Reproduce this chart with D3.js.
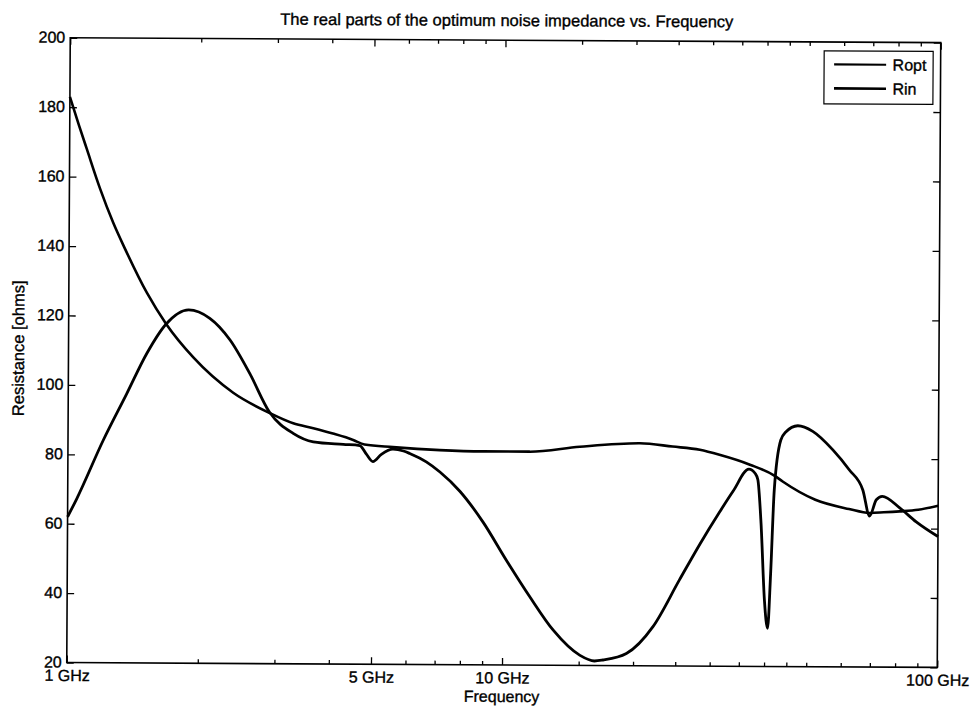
<!DOCTYPE html>
<html><head><meta charset="utf-8">
<script src="https://cdn.jsdelivr.net/npm/d3@7"></script>
<style>body{margin:0;background:#fff}svg{display:block}text{font-family:"Liberation Sans",Arial,sans-serif;fill:#000;stroke:#000;stroke-width:0.35px}</style>
</head><body>
<svg id="chart" width="972" height="708"></svg>
<script>
// ---- data (frequency in GHz, resistance in ohms) ----
const roptFreq = [1.0,1.05,1.095,1.176,1.263,1.342,1.512,1.675,1.936,2.393,2.906,3.29,3.66,4.06,4.52,4.8,5.58,7.15,9.0,11.5,15.0,20.6,24.5,28.3,31.4,36.9,42.0,43.9,52.2,62.4,69.6,75.0,81.6,90.0,100.0];
const roptVal  = [183,174.8,168.0,156.6,146.7,139.5,126.6,117.7,108.1,98.0,92.2,89.3,87.9,86.4,84.6,83.3,82.6,81.8,81.5,81.5,83.0,84.1,83.2,82.3,80.9,78.1,75.0,73.3,68.1,65.5,64.4,64.6,64.9,65.4,66.6];

const rinFreq = [1.0,1.049,1.205,1.362,1.512,1.675,1.886,2.11,2.35,2.61,2.9,3.29,3.66,4.29,4.68,4.85,5.02,5.25,5.58,5.9,6.1,6.66,7.16,7.96,9.0,10.2,11.56,13.1,15.1,16.3,17.06,19.3,22.2,25.5,28.4,31.5,33.8,36.7,38.0,38.5,39.2,40.0,40.7,41.3,42.0,43.4,44.5,47.5,51.4,57.2,62.4,67.1,69.6,72.1,74.4,81.6,89.1,100.0];
const rinVal  = [62,67.2,84.1,97.5,109.1,117.7,121.8,119.4,113.2,103.6,92.5,86.4,84.0,83.3,83.0,80.5,78.4,80.5,82.0,81.5,80.8,78.4,75.5,70.0,61.2,50.2,39.7,30.1,22.9,21.3,21.6,23.5,31.3,44.8,55.2,64.5,70.5,76.8,75.5,73.8,61.3,39.1,31.0,46.7,70.8,85.2,87.5,89.4,87.8,82.5,76.8,71.0,63.5,68.2,69.2,65.9,61.9,57.7];

const xTickValues = [1,5,10,100];
const xTickLabels = ["1 GHz","5 GHz","10 GHz","100 GHz"];
const xMinorTicks = [2,3,4,6,7,8,9,15,20,25,30,35,40,45,50,60,70,80,90];
const yTickValues = [20,40,60,80,100,120,140,160,180,200];
const seriesNames = ["Ropt","Rin"];

const titleText = "The real parts of the optimum noise impedance vs. Frequency";
const xLabelText = "Frequency";
const yLabelText = "Resistance [ohms]";

// ---- layout ----
const L = 68.5, R = 939, T = 40.2, B = 665;
const svg = d3.select("#chart");
const g = svg.append("g").attr("transform","rotate(0.32,503.5,352.5)");

const x = d3.scaleLog().domain([1,100]).range([L,R]);
const y = d3.scaleLinear().domain([20,200]).range([B,T]);

// title & labels
g.append("text").attr("x",505).attr("y",26).attr("text-anchor","middle")
  .style("font-size","16.5px").text(titleText);
g.append("text").attr("x",503.5).attr("y",702).attr("text-anchor","middle")
  .style("font-size","16px").text(xLabelText);
g.append("text").attr("transform","translate(24,351) rotate(-90)").attr("text-anchor","middle")
  .style("font-size","16.5px").text(yLabelText);

// curves
const line = d3.line().x(d=>x(d[0])).y(d=>y(d[1])).curve(d3.curveMonotoneX);
const roptData = roptFreq.map((f,i)=>[f,roptVal[i]]);
const rinData = rinFreq.map((f,i)=>[f,rinVal[i]]);
g.append("path").datum(roptData).attr("d",line).attr("fill","none")
  .attr("stroke","#000").attr("stroke-width",2.6).attr("stroke-linejoin","round");
g.append("path").datum(rinData).attr("d",line).attr("fill","none")
  .attr("stroke","#000").attr("stroke-width",2.8).attr("stroke-linejoin","round");

// axes
function styleAxis(sel){
  sel.select(".domain").remove();
  sel.selectAll(".tick line").attr("stroke","#000").attr("stroke-width",1.3);
  sel.selectAll(".tick text").style("font-size","16px").attr("fill","#000");
}
const xi = d3.scaleOrdinal().domain(xTickValues).range(xTickLabels);
g.append("g").attr("transform",`translate(0,${B})`)
  .call(d3.axisBottom(x).tickValues(xTickValues).tickFormat(d=>xi(d)).tickSizeInner(-7).tickSizeOuter(0).tickPadding(7))
  .call(styleAxis);
g.append("g").attr("transform",`translate(0,${B})`)
  .call(d3.axisBottom(x).tickValues(xMinorTicks).tickFormat("").tickSizeInner(-4).tickSizeOuter(0))
  .call(styleAxis);
g.append("g").attr("transform",`translate(0,${T})`)
  .call(d3.axisTop(x).tickValues(xTickValues).tickFormat("").tickSizeInner(-7).tickSizeOuter(0))
  .call(styleAxis);
g.append("g").attr("transform",`translate(0,${T})`)
  .call(d3.axisTop(x).tickValues(xMinorTicks).tickFormat("").tickSizeInner(-4).tickSizeOuter(0))
  .call(styleAxis);
const yAx = g.append("g").attr("transform",`translate(${L},0)`)
  .call(d3.axisLeft(y).tickValues(yTickValues).tickFormat(d3.format("d")).tickSizeInner(-7).tickSizeOuter(0).tickPadding(5))
  .call(styleAxis);
yAx.selectAll(".tick text").attr("dy","0.28em");
g.append("g").attr("transform",`translate(${R},0)`)
  .call(d3.axisRight(y).tickValues(yTickValues).tickFormat("").tickSizeInner(-7).tickSizeOuter(0))
  .call(styleAxis);

// frame
g.append("rect").attr("x",L).attr("y",T).attr("width",R-L).attr("height",B-T)
  .attr("fill","none").attr("stroke","#000").attr("stroke-width",1.6);

// legend
const lg = g.append("g");
lg.append("rect").attr("x",822.5).attr("y",49).attr("width",109).attr("height",53)
  .attr("fill","#fff").attr("stroke","#000").attr("stroke-width",1.2);
const rowY = [62.6,86.6];
const rowW = [2.2,2.7];
seriesNames.forEach((n,i)=>{
  lg.append("line").attr("x1",832.5).attr("x2",884.5).attr("y1",rowY[i]).attr("y2",rowY[i])
    .attr("stroke","#000").attr("stroke-width",rowW[i]);
  lg.append("text").attr("x",891).attr("y",rowY[i]).attr("dy","0.36em")
    .style("font-size","16px").text(n);
});
</script>
</body></html>
